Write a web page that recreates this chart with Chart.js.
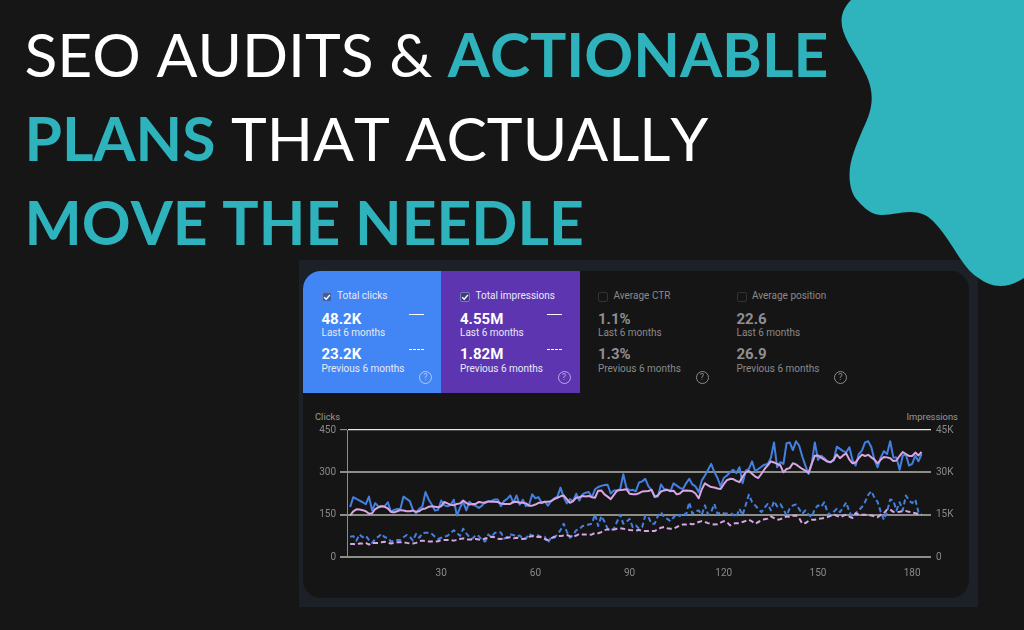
<!DOCTYPE html>
<html><head><meta charset="utf-8">
<style>
html,body{margin:0;padding:0;background:#161616;width:1024px;height:630px;overflow:hidden}
#page{position:relative;width:1024px;height:630px;overflow:hidden}
.h{position:absolute;left:24.5px;font:400 60.6px/84px Lato,sans-serif;font-kerning:none;color:#fff;white-space:nowrap}
.h b{font-weight:700;color:#2eb3bd}
#blob{position:absolute;left:0;top:0;z-index:3}
#outer{position:absolute;left:299px;top:260px;width:679px;height:347px;background:#1c2127}
#inner{position:absolute;left:303px;top:271px;width:666px;height:327px;background:#151515;border-radius:18px;overflow:hidden}
.card{position:absolute;top:271px;height:122px}
.t{position:absolute;font-family:Roboto,sans-serif;white-space:nowrap;line-height:14px}
.cb{position:absolute;top:292px;width:10px;height:10px;border-radius:2px;box-sizing:border-box}
.q{position:absolute;top:370.5px;width:13px;height:13px;border-radius:50%;box-sizing:border-box;border:1px solid;font:400 9px/11px Roboto,sans-serif;text-align:center}
.sw{position:absolute;left:0;width:15px;height:0;box-sizing:border-box}
#wrap{position:absolute;left:300px;top:400px;width:670px;height:190px}
</style></head><body><div id="page">
<div class="h" style="top:12px">SEO AUDITS &amp; <b>ACTIONABLE</b></div>
<div class="h" style="top:96px"><b>PLANS</b> THAT ACTUALLY</div>
<div class="h" style="top:179.5px"><b>MOVE THE NEEDLE</b></div>
<svg id="blob" width="1024" height="630"><path fill="#2fb3bc" d="M851,0 C845,6 841.5,13 841.5,21 C841.5,35 853,50 860,63 C867,76 871.7,85 871.7,98 C871.7,112 866,122 861.7,132 C856,146 849.5,160 849.5,175 C849.5,188 853,196 858,201 C865,209 872,215 882,215 C892,215 900,212 910,212 C920,212 927,215 933,221 C942,230 948,240 954,249 C961,260 968,271 977,277 C985,283 993,286 1000,286 C1010,286 1018,282 1024,278 L1024,0 Z"/></svg>
<div id="dash" style="position:absolute;left:0;top:0;width:1024px;height:630px;filter:blur(.4px)">
<div id="outer"></div><div id="inner"></div>
<div class="card" style="left:303px;width:138px;background:#4285f4;border-top-left-radius:18px"></div>
<div class="card" style="left:441px;width:139px;background:#5e35b1"></div>
<div id="cards"></div>
<div class="t" style="left:315px;top:410px;font-size:9.4px;color:#9a9a9a">Clicks</div>
<div class="t" style="left:906.5px;top:410px;font-size:9.4px;color:#9a9a9a">Impressions</div>
<div id="wrap"><canvas id="c"></canvas></div>
</div>
</div>
<script src="https://cdn.jsdelivr.net/npm/chart.js@4/dist/chart.umd.min.js"></script>
<script>
const clicksLast=[177,212,206,200,194,187,214,165,191,179,
180,180,194,160,167,170,170,214,206,198,
167,155,171,179,230,204,186,165,167,200,
183,180,184,203,147,175,196,165,196,185,
181,174,182,195,197,198,204,204,180,198,
206,218,192,218,185,203,180,185,222,208,
212,192,196,182,198,208,214,246,212,190,
205,198,224,200,222,228,230,212,240,248,
252,255,256,225,236,236,240,293,245,236,
238,233,264,268,277,250,238,212,214,257,
241,238,233,261,253,245,241,261,277,257,
250,230,271,289,309,330,301,280,250,280,
289,300,309,297,318,261,306,312,339,304,
312,320,327,330,351,406,318,336,330,403,
406,379,410,395,356,324,294,330,406,344,
359,351,339,336,342,391,383,375,371,389,
344,324,365,377,406,410,389,344,318,353,
375,365,410,353,353,309,359,363,324,330,
359,339,365];
const impressionsLast=[14700,16200,16900,16800,16600,16200,15300,15500,17000,17600,
18000,17800,17200,16000,15800,16200,16600,16500,16200,16200,
16500,16000,16200,17000,17200,17800,18000,17800,17600,18000,
19500,19000,18500,18300,18800,19000,20000,19200,18600,18800,
18800,19500,19300,19200,19700,19600,19600,19500,19000,18800,
18800,18800,19500,19600,19200,19200,19000,18200,18200,18600,
19200,19200,19600,19600,19800,20500,21000,21500,21800,20500,
19200,19800,21000,21200,21600,21400,21600,21200,21000,23500,
23600,22200,21400,20500,22000,23500,23700,23800,24000,22400,
22200,22200,22600,23200,23300,23400,23800,21400,21800,23200,
23600,23800,23400,23500,22200,22500,23500,23600,23500,23300,
22500,20800,24000,26100,25400,24800,24600,24300,24100,25800,
27200,27700,27600,27000,26500,28500,30000,30500,29500,28500,
28000,29500,31200,32500,33900,33500,33000,32500,30000,31200,
31500,33200,32800,32000,31200,30600,29800,33000,35900,36000,
35200,34500,33800,33600,34500,36300,35000,36000,36700,34500,
33200,33500,35000,36300,35800,36200,35300,34500,33200,34500,
35400,35300,35000,34000,34200,35800,37200,36500,35800,35800,
37000,36000,37200];
const clicksPrev=[72,74,58,80,70,75,60,50,64,72,
82,70,68,55,58,60,60,70,78,72,
58,82,68,84,86,86,82,72,64,68,
72,75,85,95,85,75,100,84,70,65,
78,74,60,55,80,70,85,88,87,65,
70,80,78,72,76,65,65,82,75,78,
76,70,72,50,70,68,80,95,118,90,
68,78,95,98,110,112,115,118,152,110,
145,125,100,95,100,125,150,118,125,135,
106,112,100,105,147,141,118,118,145,159,
141,135,127,140,153,145,155,150,194,153,
162,165,150,183,150,160,188,153,158,155,
154,155,150,141,171,148,185,221,195,183,
170,159,175,188,165,198,179,188,170,147,
172,183,186,170,153,165,150,141,170,183,
177,194,160,147,160,171,159,175,194,160,
141,155,165,177,195,220,233,210,195,160,
132,160,204,200,165,194,165,218,200,191,
203,159,155];
const impressionsPrev=[4600,4600,4400,4800,4800,5000,4400,5000,5000,5000,
5200,5400,5000,4800,5000,5200,5200,5200,5000,4800,
4800,5000,5600,5800,5600,5500,5500,5400,5600,6000,
6000,6000,6000,5800,6000,6400,6600,6200,6200,6200,
6400,6200,6000,6600,6600,7200,7000,6500,6400,6600,
6800,7000,6600,6800,6600,6400,6600,7200,7400,7000,
7200,7000,6400,6000,6600,7200,7400,7400,7600,7800,
7400,7200,7600,8200,8000,8000,7800,8000,8500,8400,
8800,9500,9800,9600,9700,10000,10200,10000,9800,9600,
9500,9400,9600,9300,9200,9200,9200,9200,9800,10400,
10600,10200,10000,10000,10600,11200,11500,11500,11800,11600,
11800,12400,12700,12400,12000,11700,11500,11600,12200,12700,
12400,11200,11800,12000,12000,12400,12800,13200,12600,11800,
12400,13000,13400,13600,14400,13800,13200,13400,13800,14400,
14200,14600,14700,13800,11800,12000,12800,13200,13200,13500,
13600,13800,14100,14600,15100,14600,14100,14600,15000,14300,
13800,15500,15000,15000,15000,14800,14700,14400,14100,15000,
15500,16800,16800,16000,15900,16000,16200,16300,16000,15800,
15500,15200,15000];
const xTicks=[30,60,90,120,150,180];
const clicksTicks=[0,150,300,450];
const impressionsTicks=[0,15000,30000,45000];
const impressionsTickLabels=['0','15K','30K','45K'];
const metricNames=['Total clicks','Total impressions','Average CTR','Average position'];
const metricLast=['48.2K','4.55M','1.1%','22.6'];
const metricPrev=['23.2K','1.82M','1.3%','26.9'];
const periodLast='Last 6 months', periodPrev='Previous 6 months';

const cardsX=[321.5,460,598,736.5];
let html='';
metricNames.forEach((n,i)=>{
  const x=cardsX[i],on=i<2,c=on?'#fff':'#8f8f8f',s=on?'#e9e9f5':'#8a8a8a';
  const boxBg=on?(i==0?'#3a5fa8':'#43367f'):'transparent';
  html+=`<div class="cb" style="left:${x}px;background:${boxBg};border:1px solid ${on?'#6d7fb5':'#333'}"></div>`;
  if(on)html+=`<svg style="position:absolute;left:${x}px;top:292px" width="10" height="10"><path d="M2.2 5.2 L4.2 7.2 L7.9 3" fill="none" stroke="#fff" stroke-width="1.4"/></svg>`;
  html+=`<div class="t" style="left:${x+15.5}px;top:289px;font-size:10px;color:${s}">${n}</div>`;
  html+=`<div class="t" style="left:${x}px;top:311.5px;font-size:15px;font-weight:700;color:${c}">${metricLast[i]}</div>`;
  html+=`<div class="t" style="left:${x}px;top:326px;font-size:10px;color:${s}">${periodLast}</div>`;
  html+=`<div class="t" style="left:${x}px;top:346.5px;font-size:15px;font-weight:700;color:${c}">${metricPrev[i]}</div>`;
  html+=`<div class="t" style="left:${x}px;top:361.5px;font-size:10px;color:${s}">${periodPrev}</div>`;
  if(on){
    html+=`<div class="sw" style="left:${x+87}px;top:314px;border-top:1.5px solid #fff"></div>`;
    html+=`<div class="sw" style="left:${x+87}px;top:349px;border-top:1.5px dashed #fff"></div>`;
  }
  html+=`<div class="q" style="left:${x+97.5}px;color:${on?'rgba(255,255,255,.55)':'#8a8a8a'}">?</div>`;
});
document.getElementById('cards').innerHTML=html;

const days=clicksLast.map((_,i)=>i+1);
const pts=a=>a.map((v,i)=>({x:days[i],y:v}));
const BLUE='#4480e0',PINK='#d8a6e2';
const ds=(label,a,axis,color,dash,order)=>({label,data:pts(a),yAxisID:axis,borderColor:color,borderWidth:dash?2:2,borderDash:dash?[5,3]:[],pointRadius:0,tension:0,order,fill:false,borderJoinStyle:'round'});
const gridCol=ctx=>ctx.tick&&ctx.tick.value===450?'#e8e8e8':'#8e8e88';
new Chart(document.getElementById('c'),{
  type:'line',
  data:{datasets:[
    ds('Impressions (last 6 months)',impressionsLast,'yR',PINK,false,0),
    ds('Impressions (previous 6 months)',impressionsPrev,'yR',PINK,true,1),
    ds('Clicks (last 6 months)',clicksLast,'y',BLUE,false,2),
    ds('Clicks (previous 6 months)',clicksPrev,'y',BLUE,true,3)
  ]},
  options:{
    responsive:true,maintainAspectRatio:false,animation:false,
    devicePixelRatio:1,
    layout:{padding:{top:30,left:0,right:0,bottom:0}},
    plugins:{legend:{display:false},tooltip:{enabled:false}},
    scales:{
      x:{type:'linear',min:0,max:186,
        afterBuildTicks:s=>{s.ticks=xTicks.map(v=>({value:v}))},
        afterFit:s=>{s.height=33},
        grid:{display:false,drawTicks:false},border:{display:false},
        ticks:{color:'#8a8a8a',font:{family:'Roboto',size:10},padding:10,maxRotation:0,autoSkip:false}},
      y:{position:'left',min:0,max:450,
        afterBuildTicks:s=>{s.ticks=clicksTicks.map(v=>({value:v}))},
        afterFit:s=>{s.width=47},
        grid:{color:gridCol,lineWidth:c=>c.tick&&c.tick.value===450?1.2:2,tickLength:7,tickColor:'#8e8e88'},
        border:{display:true,color:'#8e8e88',width:1},
        ticks:{color:'#8a8a8a',font:{family:'Roboto',size:10},padding:4}},
      yR:{position:'right',min:0,max:45000,
        afterBuildTicks:s=>{s.ticks=impressionsTicks.map(v=>({value:v}))},
        afterFit:s=>{s.width=39},
        grid:{display:false,drawTicks:false},
        border:{display:false},
        ticks:{color:'#8a8a8a',font:{family:'Roboto',size:10},padding:5,
          callback:v=>impressionsTickLabels[impressionsTicks.indexOf(v)]}}
    }
  }
});
</script></body></html>
